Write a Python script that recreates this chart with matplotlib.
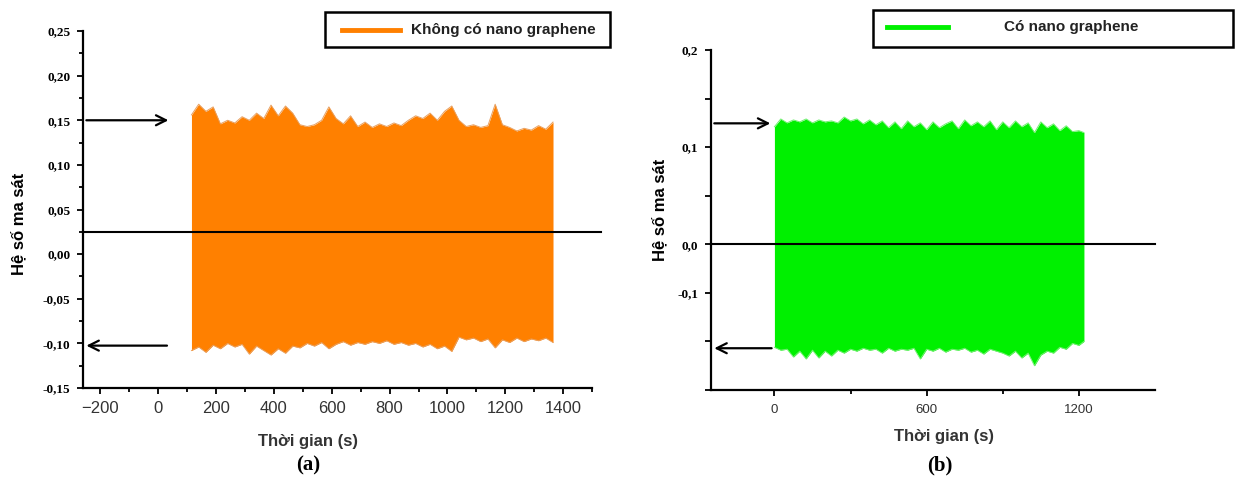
import matplotlib
matplotlib.use("Agg")
import matplotlib.pyplot as plt
from matplotlib.patches import Rectangle
from matplotlib.lines import Line2D
from matplotlib.ticker import MultipleLocator, FixedLocator, FixedFormatter

# ---- data (envelope of the friction signal) ----
# (a) without nano graphene
time_a = [115, 140, 165, 190, 215, 240, 265, 290, 315, 340, 365, 390, 415, 440,
          465, 490, 515, 540, 565, 590, 615, 640, 665, 690, 715, 740, 765, 790,
          815, 840, 865, 890, 915, 940, 965, 990, 1015, 1040, 1065, 1090, 1115,
          1140, 1165, 1190, 1215, 1240, 1265, 1290, 1315, 1340, 1365]
upper_a = [0.156, 0.168, 0.160, 0.165, 0.146, 0.150, 0.147, 0.154, 0.150, 0.158,
           0.152, 0.167, 0.155, 0.166, 0.158, 0.145, 0.143, 0.145, 0.150, 0.165,
           0.152, 0.146, 0.155, 0.143, 0.148, 0.142, 0.146, 0.143, 0.147, 0.144,
           0.150, 0.155, 0.152, 0.158, 0.150, 0.160, 0.166, 0.150, 0.143, 0.145,
           0.142, 0.144, 0.168, 0.145, 0.142, 0.138, 0.141, 0.139, 0.144, 0.140,
           0.148]
lower_a = [-0.108, -0.104, -0.110, -0.102, -0.106, -0.100, -0.104, -0.101, -0.112,
           -0.103, -0.108, -0.113, -0.106, -0.111, -0.103, -0.105, -0.100, -0.103,
           -0.099, -0.106, -0.101, -0.098, -0.102, -0.099, -0.101, -0.098, -0.100,
           -0.097, -0.101, -0.099, -0.102, -0.100, -0.104, -0.101, -0.106, -0.103,
           -0.109, -0.093, -0.096, -0.094, -0.098, -0.095, -0.105, -0.096, -0.099,
           -0.094, -0.098, -0.095, -0.097, -0.094, -0.099]

# (b) with nano graphene
time_b = [0, 25, 50, 75, 100, 125, 150, 175, 200, 225, 250, 275, 300, 325, 350,
          375, 400, 425, 450, 475, 500, 525, 550, 575, 600, 625, 650, 675, 700,
          725, 750, 775, 800, 825, 850, 875, 900, 925, 950, 975, 1000, 1025,
          1050, 1075, 1100, 1125, 1150, 1175, 1200, 1220]
upper_b = [0.121, 0.129, 0.125, 0.128, 0.126, 0.129, 0.125, 0.128, 0.126, 0.127,
           0.125, 0.131, 0.127, 0.129, 0.124, 0.128, 0.123, 0.127, 0.120, 0.126,
           0.119, 0.127, 0.121, 0.125, 0.118, 0.126, 0.120, 0.124, 0.127, 0.119,
           0.128, 0.122, 0.126, 0.121, 0.127, 0.118, 0.126, 0.120, 0.127, 0.121,
           0.125, 0.115, 0.126, 0.120, 0.124, 0.117, 0.122, 0.116, 0.117, 0.115]
lower_b = [-0.106, -0.109, -0.108, -0.116, -0.110, -0.118, -0.109, -0.117, -0.110,
           -0.115, -0.109, -0.112, -0.108, -0.110, -0.107, -0.109, -0.108, -0.112,
           -0.107, -0.110, -0.108, -0.109, -0.107, -0.118, -0.108, -0.110, -0.107,
           -0.111, -0.108, -0.109, -0.107, -0.111, -0.109, -0.113, -0.108, -0.110,
           -0.112, -0.115, -0.110, -0.117, -0.112, -0.125, -0.114, -0.110, -0.112,
           -0.106, -0.108, -0.102, -0.104, -0.100]

ref_a = 0.025   # horizontal reference line
ref_b = 0.0
arrow_a = (0.15, -0.1025)
arrow_b = (0.1245, -0.107)

yticks_b = [0.2, 0.15, 0.1, 0.05, 0.0, -0.05, -0.1, -0.15]
ytick_labels_b = ["0,2", "", "0,1", "", "0,0", "-0,1", "", ""]

orange = "#ff8000"
green = "#00f000"
sans = "Liberation Sans"
serif = "Liberation Serif"

fig = plt.figure(figsize=(12.35, 4.84), dpi=100)
ax_a = fig.add_axes([0.0672, 0.1983, 0.4122, 0.7376])
ax_b = fig.add_axes([0.5757, 0.1942, 0.3595, 0.7025])


def style_axes(ax):
    for s in ["top", "right"]:
        ax.spines[s].set_visible(False)
    for s in ["left", "bottom"]:
        ax.spines[s].set_linewidth(1.6)
    ax.tick_params(which="both", direction="out", width=1.3, color="black")
    ax.tick_params(which="major", length=4)
    ax.tick_params(which="minor", length=3)


# ---------------- panel (a) ----------------
ax = ax_a
ax.fill_between(time_a, lower_a, upper_a, color=orange, lw=0)
ax.plot(time_a, upper_a, color="#e8a060", lw=0.7)
ax.plot(time_a, lower_a, color="#e8a060", lw=0.7)
ax.plot([-260, 1530], [ref_a, ref_a], color="black", lw=1.5, clip_on=False)
ax.set_xlim(-260, 1500)
ax.set_ylim(-0.15, 0.25)
ax.xaxis.set_major_locator(MultipleLocator(200))
ax.xaxis.set_minor_locator(FixedLocator([-100, 100, 300, 500, 700, 900, 1100, 1300, 1500]))
ax.yaxis.set_minor_locator(MultipleLocator(0.025))
ax.set_yticks([0.25, 0.2, 0.15, 0.1, 0.05, 0.0, -0.05, -0.1, -0.15])
ax.set_yticklabels(["0,25", "0,20", "0,15", "0,10", "0,05", "0,00", "-0,05", "-0,10", "-0,15"])
style_axes(ax)
ax.tick_params(axis="x", labelsize=12, labelcolor="#333333", pad=5)
ax.tick_params(axis="y", labelsize=9.5, pad=5)
plt.setp(ax.get_yticklabels(), family=serif, weight="bold")
plt.setp(ax.get_xticklabels(), family=sans)
ax.annotate("", xy=(45, arrow_a[0]), xytext=(-258, arrow_a[0]),
            arrowprops=dict(arrowstyle="->", lw=1.6, color="black", mutation_scale=18),
            annotation_clip=False)
ax.annotate("", xy=(-258, arrow_a[1]), xytext=(40, arrow_a[1]),
            arrowprops=dict(arrowstyle="->", lw=1.6, color="black", mutation_scale=18),
            annotation_clip=False)
ax.set_xlabel("Thời gian (s)", family=sans, weight="bold", fontsize=12,
              color="#333333", va="center")
ax.xaxis.set_label_coords(0.442, -0.15)
ax.set_ylabel("Hệ số ma sát", family=sans, weight="bold", fontsize=12, va="center")
ax.yaxis.set_label_coords(-0.126, 0.46)

# ---------------- panel (b) ----------------
ax = ax_b
ax.fill_between(time_b, lower_b, upper_b, color=green, lw=0)
ax.plot(time_b, upper_b, color="#70f070", lw=0.7)
ax.plot(time_b, lower_b, color="#70f070", lw=0.7)
ax.plot([-250, 1500], [ref_b, ref_b], color="black", lw=1.5, clip_on=False)
ax.set_xlim(-250, 1500)
ax.set_ylim(-0.15, 0.2)
ax.set_xticks([0, 600, 1200])
ax.xaxis.set_minor_locator(FixedLocator([300, 900]))
ax.yaxis.set_major_locator(FixedLocator(yticks_b))
ax.yaxis.set_major_formatter(FixedFormatter(ytick_labels_b))
style_axes(ax)
ax.tick_params(axis="x", labelsize=9.5, labelcolor="#333333", pad=6)
ax.tick_params(axis="y", labelsize=9.5, pad=5)
plt.setp(ax.get_yticklabels(), family=serif, weight="bold")
plt.setp(ax.get_xticklabels(), family=sans)
ax.annotate("", xy=(-5, arrow_b[0]), xytext=(-248, arrow_b[0]),
            arrowprops=dict(arrowstyle="->", lw=1.6, color="black", mutation_scale=18),
            annotation_clip=False)
ax.annotate("", xy=(-248, arrow_b[1]), xytext=(0, arrow_b[1]),
            arrowprops=dict(arrowstyle="->", lw=1.6, color="black", mutation_scale=18),
            annotation_clip=False)
ax.set_xlabel("Thời gian (s)", family=sans, weight="bold", fontsize=12,
              color="#333333", va="center")
ax.xaxis.set_label_coords(0.525, -0.138)
ax.set_ylabel("Hệ số ma sát", family=sans, weight="bold", fontsize=12, va="center")
ax.yaxis.set_label_coords(-0.115, 0.53)

# ---------------- legend boxes (drawn in figure pixels) ----------------
W, H = 1235.0, 484.0


def legend_box(x0, x1, y_top, y_bot, lx0, lx1, ly, tx, label, color, ha="left"):
    fig.patches.append(Rectangle((x0 / W, 1 - y_bot / H), (x1 - x0) / W, (y_bot - y_top) / H,
                                 transform=fig.transFigure, fill=False,
                                 edgecolor="black", lw=1.8))
    fig.lines.append(Line2D([lx0 / W, lx1 / W], [1 - ly / H, 1 - ly / H],
                            transform=fig.transFigure, color=color, lw=3.5))
    fig.text(tx / W, 1 - ly / H, label, family=sans, weight="bold", fontsize=11,
             color="#222222", ha=ha, va="center")


legend_box(325, 610, 12, 47, 342, 400, 30, 411, "Không có nano graphene", orange)
legend_box(873, 1233, 10, 47, 887, 948, 27, 1071, "Có nano graphene", green, ha="center")

# panel captions
fig.text(308 / W, 1 - 465 / H, "(a)", family=serif, weight="bold", fontsize=15,
         ha="center", va="center")
fig.text(940 / W, 1 - 465 / H, "(b)", family=serif, weight="bold", fontsize=15,
         ha="center", va="center")

fig.savefig("out.png", dpi=100)
